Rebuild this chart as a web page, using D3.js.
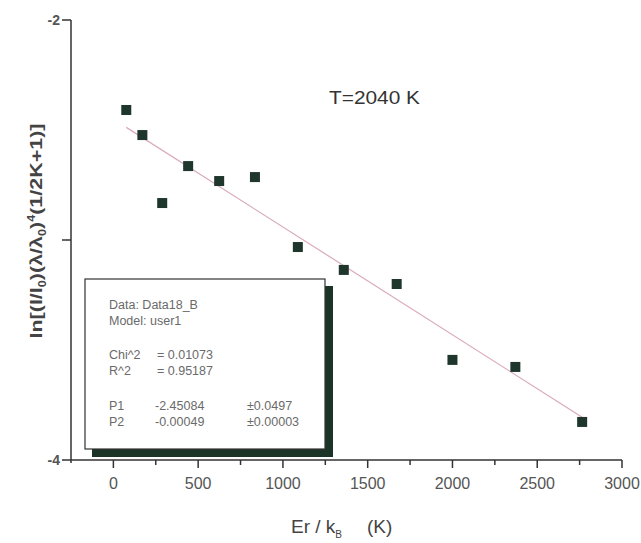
<!DOCTYPE html>
<html><head><meta charset="utf-8">
<script src="https://cdn.jsdelivr.net/npm/d3@7"></script>
<style>body{margin:0;background:#fff;} svg{display:block;font-family:"Liberation Sans",Arial,sans-serif;}</style>
</head><body>
<svg id="c" width="641" height="543"></svg>
<script>
const erValues = [76, 171, 288, 441, 624, 835, 1088, 1359, 1671, 2000, 2371, 2765];
const lnValues = [-2.409, -2.523, -2.832, -2.664, -2.732, -2.714, -3.032, -3.136, -3.2, -3.545, -3.577, -3.827];
const fitIntercept = -2.45084;
const fitSlope = -0.00049;
const xMajorTicks = [0, 500, 1000, 1500, 2000, 2500, 3000];
const xMinorTicks = [250, 750, 1250, 1750, 2250, 2750];
const yTicks = [-2, -3, -4];
const yTickLabels = ["-2", "", "-4"];
const legendLines = [
  ["Data: Data18_B", "", ""],
  ["Model: user1", "", ""],
  ["", "", ""],
  ["Chi^2", "=  0.01073", ""],
  ["R^2", "=  0.95187", ""],
  ["", "", ""],
  ["P1", "-2.45084", "±0.0497"],
  ["P2", "-0.00049", "±0.00003"]
];

const svg = d3.select("#c");
const x = d3.scaleLinear().domain([-250, 3000]).range([71, 622]);
const y = d3.scaleLinear().domain([-4, -2]).range([460, 20]);

// legend box with shadow
const lg = svg.append("g");
lg.append("rect").attr("x", 92).attr("y", 286).attr("width", 241).attr("height", 171).attr("fill", "#1c3327");
lg.append("rect").attr("x", 85).attr("y", 279).attr("width", 240).attr("height", 170).attr("fill", "#fff").attr("stroke", "#333").attr("stroke-width", 1.2);
const lineYs = [305, 321, 0, 355, 371, 0, 406, 422];
legendLines.forEach((r, i) => {
  if (!r[0]) return;
  const t = lg.append("g").attr("font-size", 12.5).attr("fill", "#6a6a6a");
  t.append("text").attr("x", 109).attr("y", lineYs[i] + 4).text(r[0]);
  if (r[1]) t.append("text").attr("x", r[1].startsWith("=") ? 157 : 155).attr("y", lineYs[i] + 4).text(r[1]);
  if (r[2]) t.append("text").attr("x", 247).attr("y", lineYs[i] + 4).text(r[2]);
});

// axes
const ax = svg.append("g").attr("stroke", "#333").attr("fill", "none");
ax.append("line").attr("x1", x(-250)).attr("x2", x(3000)).attr("y1", y(-4)).attr("y2", y(-4)).attr("stroke-width", 1.5);
ax.append("line").attr("x1", x(-250)).attr("x2", x(-250)).attr("y1", y(-2)).attr("y2", y(-4) + 3).attr("stroke-width", 1.5);
xMajorTicks.forEach(v => ax.append("line").attr("x1", x(v)).attr("x2", x(v)).attr("y1", y(-4)).attr("y2", y(-4) + 8).attr("stroke-width", 1.5));
xMinorTicks.forEach(v => ax.append("line").attr("x1", x(v)).attr("x2", x(v)).attr("y1", y(-4)).attr("y2", y(-4) + 5).attr("stroke-width", 1.5));
yTicks.forEach(v => ax.append("line").attr("x1", x(-250) - 9).attr("x2", x(-250)).attr("y1", y(v)).attr("y2", y(v)).attr("stroke-width", 1.5));

svg.append("g").selectAll("text").data(xMajorTicks).join("text")
  .attr("x", d => x(d)).attr("y", y(-4) + 29).attr("text-anchor", "middle")
  .attr("font-size", 16).attr("fill", "#555").text(d => d);
svg.append("g").selectAll("text").data(yTicks).join("text")
  .attr("x", x(-250) - 11).attr("y", d => y(d) + 5).attr("text-anchor", "end")
  .attr("font-size", 14).attr("font-weight", "bold").attr("fill", "#555").text((d, i) => yTickLabels[i]);

// fit line
const xr = d3.extent(erValues);
svg.append("line").attr("x1", x(xr[0])).attr("x2", x(xr[1]))
  .attr("y1", y(fitIntercept + fitSlope * xr[0])).attr("y2", y(fitIntercept + fitSlope * xr[1]))
  .attr("stroke", "#d9a9bd").attr("stroke-width", 1.2);

// points
svg.append("g").selectAll("rect").data(erValues).join("rect")
  .attr("x", (d) => x(d) - 5).attr("y", (d, i) => y(lnValues[i]) - 5)
  .attr("width", 10).attr("height", 10).attr("fill", "#1f362c");

// annotation
svg.append("text").attr("x", 329).attr("y", 104).attr("font-size", 18).attr("fill", "#333")
  .attr("textLength", 91).attr("lengthAdjust", "spacingAndGlyphs").text("T=2040 K");

// x label
const xl = svg.append("text").attr("x", 291).attr("y", 533).attr("font-size", 19).attr("fill", "#444");
xl.append("tspan").text("Er / k");
xl.append("tspan").attr("font-size", 10).attr("dy", 5).text("B");
xl.append("tspan").attr("dy", -5).attr("dx", 25).text("(K)");

// y label
const yl = svg.append("text").attr("transform", "translate(42,231) rotate(-90)").attr("text-anchor", "middle")
  .attr("font-size", 17).attr("font-weight", "bold").attr("fill", "#444")
  .attr("textLength", 215).attr("lengthAdjust", "spacingAndGlyphs");
yl.append("tspan").text("ln[(I/I");
yl.append("tspan").attr("font-size", 10).attr("dy", 4).text("0");
yl.append("tspan").attr("dy", -4).text(")(λ/λ");
yl.append("tspan").attr("font-size", 10).attr("dy", 4).text("0");
yl.append("tspan").attr("dy", -4).text(")");
yl.append("tspan").attr("font-size", 10).attr("dy", -7).text("4");
yl.append("tspan").attr("dy", 7).text("(1/2K+1)]");
</script>
</body></html>
